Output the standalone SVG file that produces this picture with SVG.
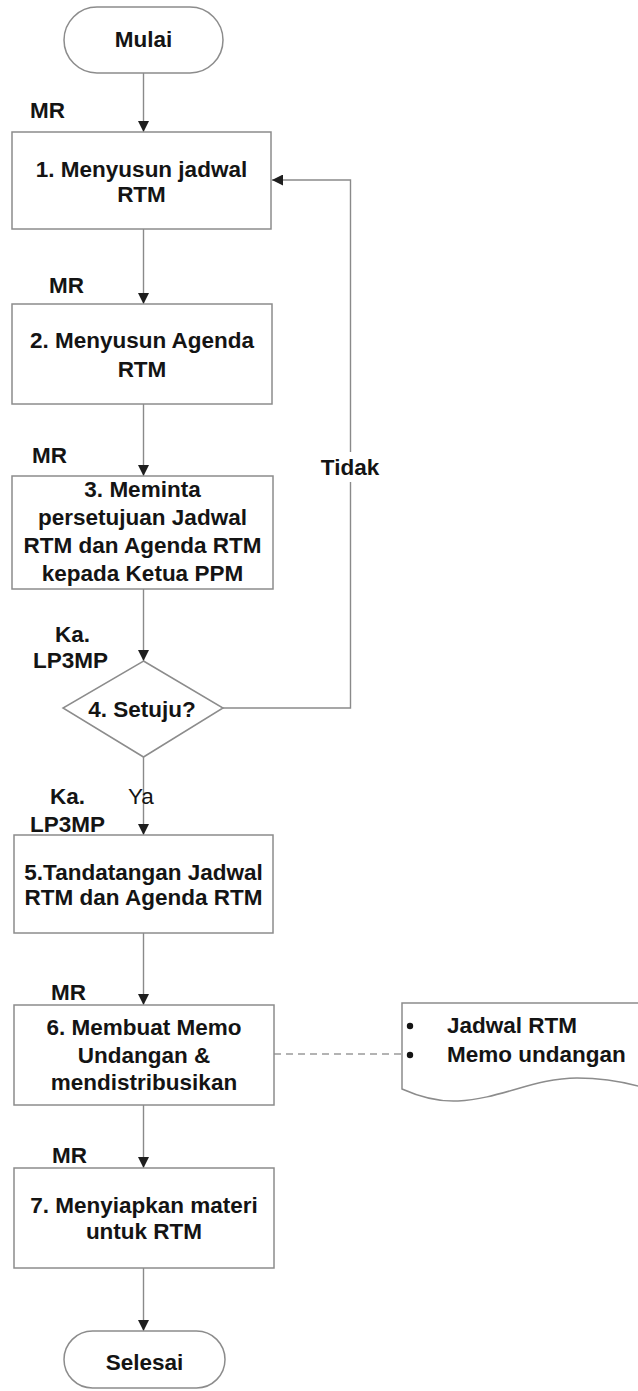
<svg xmlns="http://www.w3.org/2000/svg" width="638" height="1391" viewBox="0 0 638 1391">
<style>
  text { font-family: "Liberation Sans", Arial, sans-serif; font-size: 22.5px; fill: #141414; }
  .b { font-weight: bold; }
  .c { text-anchor: middle; font-weight: bold; }
  .shape { fill: #ffffff; stroke: #8c8c8c; stroke-width: 1.5; }
  .conn { fill: none; stroke: #8a8a8a; stroke-width: 1.4; }
  .dash { fill: none; stroke: #9a9a9a; stroke-width: 1.3; stroke-dasharray: 7 5; }
</style>
<defs>
  <marker id="arr" markerUnits="userSpaceOnUse" markerWidth="11" markerHeight="11" refX="11" refY="5.5" orient="auto" viewBox="0 0 11 11">
    <path d="M0,0 L11,5.5 L0,11 z" fill="#1e1e1e"/>
  </marker>
</defs>
<rect width="638" height="1391" fill="#ffffff"/>

<g id="connectors">
  <path class="conn" d="M143.5,73 V132" marker-end="url(#arr)"/>
  <path class="conn" d="M143.5,229 V304" marker-end="url(#arr)"/>
  <path class="conn" d="M143.5,404 V476" marker-end="url(#arr)"/>
  <path class="conn" d="M143.5,589 V661" marker-end="url(#arr)"/>
  <path class="conn" d="M143.5,757 V835" marker-end="url(#arr)"/>
  <path class="conn" d="M143.5,933 V1005" marker-end="url(#arr)"/>
  <path class="conn" d="M143.5,1105 V1168" marker-end="url(#arr)"/>
  <path class="conn" d="M143.5,1268 V1331" marker-end="url(#arr)"/>
  <path class="conn" d="M223,708 H350.5 V180 H272" marker-end="url(#arr)"/>
  <path class="dash" d="M274,1054 H402"/>
</g>

<g id="labels">
  <text class="b" x="30" y="118">MR</text>
  <text class="b" x="49" y="293">MR</text>
  <text class="b" x="32" y="463">MR</text>
  <text class="b" x="55" y="642">Ka.</text>
  <text class="b" x="33" y="668">LP3MP</text>
  <text class="b" x="50" y="804">Ka.</text>
  <text class="b" x="30" y="832">LP3MP</text>
  <text x="128" y="804">Ya</text>
  <text class="b" x="51" y="1000">MR</text>
  <text class="b" x="52" y="1163">MR</text>
  <g id="label-tidak">
    <rect x="320" y="452" width="60" height="30" fill="#ffffff"/>
    <text class="c" x="350" y="475">Tidak</text>
  </g>
</g>

<g id="mulai">
  <rect class="shape" x="64" y="7" width="159" height="66" rx="33" ry="33"/>
  <text class="c" x="143.5" y="47">Mulai</text>
</g>

<g id="step1">
  <rect class="shape" x="12" y="132" width="259" height="97"/>
  <text class="c" x="141.5" y="177">1. Menyusun jadwal</text>
  <text class="c" x="141.5" y="202">RTM</text>
</g>

<g id="step2">
  <rect class="shape" x="12" y="304" width="260" height="100"/>
  <text class="c" x="142" y="348">2. Menyusun Agenda</text>
  <text class="c" x="142" y="377">RTM</text>
</g>

<g id="step3">
  <rect class="shape" x="12" y="476" width="261" height="113"/>
  <text class="c" x="142.5" y="497">3. Meminta</text>
  <text class="c" x="142.5" y="525">persetujuan Jadwal</text>
  <text class="c" x="142.5" y="553">RTM dan Agenda RTM</text>
  <text class="c" x="142.5" y="581">kepada Ketua PPM</text>
</g>

<g id="step4">
  <polygon class="shape" points="143.5,661 223,708 143.5,757 63,708"/>
  <text class="c" x="142" y="717">4. Setuju?</text>
</g>

<g id="step5">
  <rect class="shape" x="14" y="835" width="259" height="98"/>
  <text class="c" x="143.5" y="880">5.Tandatangan Jadwal</text>
  <text class="c" x="143.5" y="905">RTM dan Agenda RTM</text>
</g>

<g id="step6">
  <rect class="shape" x="14" y="1005" width="260" height="100"/>
  <text class="c" x="144" y="1035">6. Membuat Memo</text>
  <text class="c" x="144" y="1063">Undangan &amp;</text>
  <text class="c" x="144" y="1090">mendistribusikan</text>
</g>

<g id="document">
  <path class="shape" d="M645,1003 H402 V1089 C420,1097 438,1102 458,1101 C500,1099 535,1078 577,1078 C605,1078 625,1082 645,1088"/>
  <circle cx="410" cy="1026" r="3.2" fill="#141414"/>
  <circle cx="410" cy="1055" r="3.2" fill="#141414"/>
  <text class="b" x="447" y="1033">Jadwal RTM</text>
  <text class="b" x="447" y="1062">Memo undangan</text>
</g>

<g id="step7">
  <rect class="shape" x="14" y="1168" width="260" height="100"/>
  <text class="c" x="144" y="1213">7. Menyiapkan materi</text>
  <text class="c" x="144" y="1239">untuk RTM</text>
</g>

<g id="selesai">
  <rect class="shape" x="64" y="1331" width="161" height="57" rx="28.5" ry="28.5"/>
  <text class="c" x="144.5" y="1370">Selesai</text>
</g>
</svg>
